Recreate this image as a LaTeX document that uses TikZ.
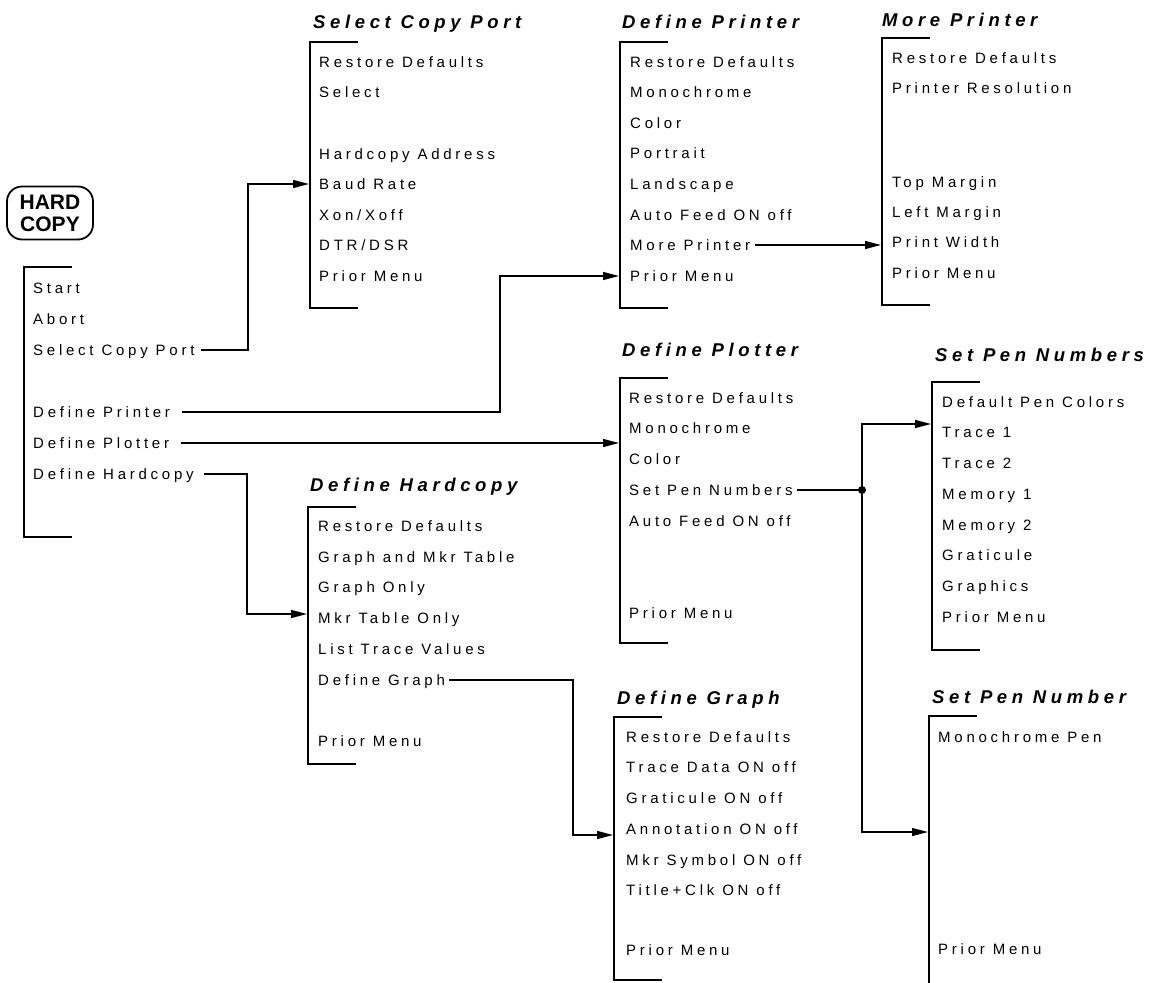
\documentclass[tikz,border=0pt]{standalone}
\usepackage{fontspec}
\setmainfont{Liberation Sans}
\newfontfamily\itemfont[LetterSpace=25]{Liberation Sans}
\newfontfamily\titlefont[LetterSpace=25]{Liberation Sans}
\usetikzlibrary{arrows.meta}
\tikzset{
  item/.style={anchor=west, inner sep=0pt, text height=10.7pt, text depth=0pt,
    font=\itemfont\fontsize{15}{15}\selectfont},
  ttl/.style={anchor=west, inner sep=0pt, text height=13.2pt, text depth=0pt,
    font=\titlefont\bfseries\itshape\fontsize{18.5}{18.5}\selectfont},
  brk/.style={line width=2pt, line join=miter},
  conn/.style={line width=1.3pt},
  arr/.style={conn, -{Triangle[length=16pt,width=8pt]}},
  hardkey/.style={draw, line width=1.8pt, rounded corners=15pt, minimum width=86pt,
    minimum height=53pt, inner sep=0pt, align=center,
    font=\bfseries\fontsize{21}{22}\selectfont},
}
\newcommand{\menubrk}[3]{\draw[brk] (#1+48,#2) -- (#1,#2) -- (#1,#3) -- (#1+48,#3);}
\begin{document}
\begin{tikzpicture}[x=1pt,y=-1pt]
\path[use as bounding box] (0,0) rectangle (1150,982);
\clip (0,0) rectangle (1150,982);

% HARD COPY key
\node[hardkey] (hc) at (50,213) {HARD\\COPY};

% left menu
\menubrk{24}{267}{537}
\foreach \t/\y [count=\i] in {Start/288, Abort/319, Select Copy Port/350,
  Define Printer/412, Define Plotter/443, Define Hardcopy/474}
  \node[item] (lm\i) at (33,\y) {\t};

% Select Copy Port
\node[ttl] (scpT) at (313,22) {Select Copy Port};
\menubrk{310}{42}{308}
\foreach \t/\y [count=\i] in {Restore Defaults/62, Select/92, Hardcopy Address/154,
  Baud Rate/184, {Xon/Xoff}/215, {DTR/DSR}/245, Prior Menu/276}
  \node[item] (scp\i) at (319,\y) {\t};

% Define Printer
\node[ttl] (dprT) at (622,22) {Define Printer};
\menubrk{620}{42}{308}
\foreach \t/\y [count=\i] in {Restore Defaults/62, Monochrome/92, Color/123,
  Portrait/153, Landscape/184, Auto Feed ON off/215, More Printer/245, Prior Menu/276}
  \node[item] (dpr\i) at (630,\y) {\t};

% More Printer
\node[ttl] (mprT) at (882,20) {More Printer};
\menubrk{882}{38}{305}
\foreach \t/\y [count=\i] in {Restore Defaults/58, Printer Resolution/88,
  Top Margin/182, Left Margin/212, Print Width/242, Prior Menu/273}
  \node[item] (mpr\i) at (892,\y) {\t};

% Define Plotter
\node[ttl] (dplT) at (622,350) {Define Plotter};
\menubrk{620}{378}{643}
\foreach \t/\y [count=\i] in {Restore Defaults/398, Monochrome/428, Color/459,
  Set Pen Numbers/490, Auto Feed ON off/521, Prior Menu/613}
  \node[item] (dpl\i) at (629,\y) {\t};

% Set Pen Numbers
\node[ttl] (spnT) at (935,355) {Set Pen Numbers};
\menubrk{932}{382}{650}
\foreach \t/\y [count=\i] in {Default Pen Colors/402, Trace 1/432, Trace 2/463,
  Memory 1/494, Memory 2/525, Graticule/555, Graphics/586, Prior Menu/617}
  \node[item] (spn\i) at (942,\y) {\t};

% Define Hardcopy
\node[ttl] (dhcT) at (310,485) {Define Hardcopy};
\menubrk{308}{507}{764}
\foreach \t/\y [count=\i] in {Restore Defaults/526, Graph and Mkr Table/557,
  Graph Only/587, Mkr Table Only/618, List Trace Values/649, Define Graph/680,
  Prior Menu/741}
  \node[item] (dhc\i) at (318,\y) {\t};

% Define Graph
\node[ttl] (dgrT) at (617,698) {Define Graph};
\menubrk{614}{717}{980}
\foreach \t/\y [count=\i] in {Restore Defaults/737, Trace Data ON off/767,
  Graticule ON off/798, Annotation ON off/829, Mkr Symbol ON off/860,
  Title+Clk ON off/890, Prior Menu/950}
  \node[item] (dgr\i) at (626,\y) {\t};

% Set Pen Number
\node[ttl] (spmT) at (932,697) {Set Pen Number};
\menubrk{929}{716}{1000}
\foreach \t/\y [count=\i] in {Monochrome Pen/737, Prior Menu/949}
  \node[item] (spm\i) at (938,\y) {\t};

% connectors
\coordinate (k1) at (248,184);
\coordinate (scpIn) at (309,184);
\draw[arr] ([xshift=6pt]lm3.east) -| (k1) -- (scpIn);

\coordinate (k2) at (500,276);
\coordinate (dprIn) at (619,276);
\draw[arr] ([xshift=12pt]lm4.east) -| (k2) -- (dprIn);

\coordinate (dplBr) at (619,0);
\draw[arr] ([xshift=12pt]lm5.east) -- (lm5.east -| dplBr);

\coordinate (k3) at (247,614);
\coordinate (dhcIn) at (307,614);
\draw[arr] ([xshift=10pt]lm6.east) -| (k3) -- (dhcIn);

\coordinate (mprBr) at (881,0);
\draw[arr] ([xshift=5pt]dpr7.east) -- (dpr7.east -| mprBr);

\coordinate (k4) at (573,835);
\coordinate (dgrIn) at (613,835);
\draw[arr] ([xshift=4pt]dhc6.east) -| (k4) -- (dgrIn);

\coordinate (jx) at (862,0);
\coordinate (jn) at (dpl4.east -| jx);
\draw[conn] ([xshift=4pt]dpl4.east) -- (jn);
\fill (jn) circle (4pt);
\coordinate (k5) at (862,424);
\coordinate (spnIn) at (931,424);
\coordinate (k6) at (862,832);
\coordinate (spmIn) at (928,832);
\draw[arr] (jn) -- (k5) -- (spnIn);
\draw[arr] (jn) -- (k6) -- (spmIn);
\end{tikzpicture}
\end{document}
